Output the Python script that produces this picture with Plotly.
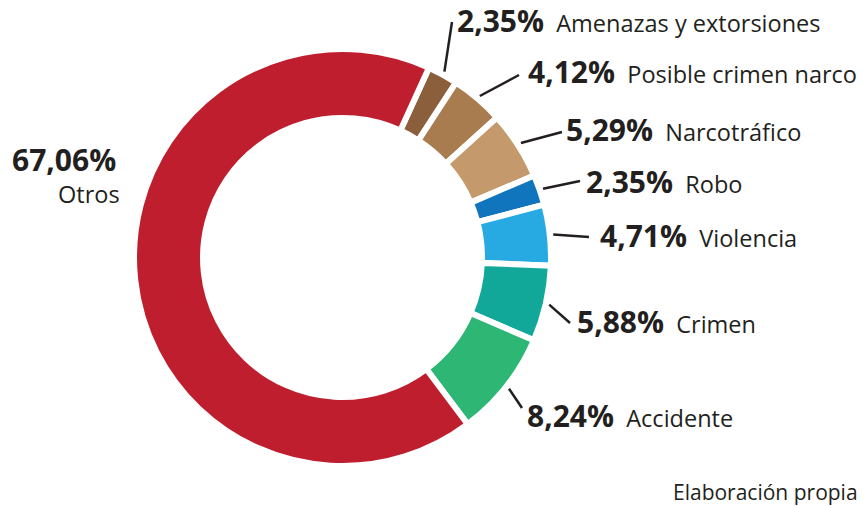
import math
import plotly.graph_objects as go

# ---- data ----
categories = ["Amenazas y extorsiones", "Posible crimen narco", "Narcotráfico", "Robo",
              "Violencia", "Crimen", "Accidente", "Otros"]
values = [2.35, 4.12, 5.29, 2.35, 4.71, 5.88, 8.24, 67.06]
colors = ["#8B5E3C", "#A97C50", "#C49A6C", "#1075BD", "#27AAE1", "#11A89A", "#2DB674", "#BE1E2D"]
source_note = "Elaboración propia"

# ---- layout / style ----
OFF = 8  # page body margin
W, H = 865 - OFF, 506 - OFF
CX, CY, R = 342.5, 257.5, 208.5   # page pixels
HOLE = 139.5 / 208.5
ROT = 24.5
TXT = "#231F20"
FONT = "Open Sans"
PCT_SIZE = 30
LAB_SIZE = 23.5
LEADER_R = 212

# per-label placement in page pixels: (leader end x, leader end y, text left x, text baseline y)
label_place = [
    (452, 22, 455, 33),
    (519, 75, 526, 83),
    (562, 132, 564, 141),
    (580, 181, 584, 193),
    (589, 237, 598, 248),
    (570, 323, 575, 333),
    (522, 408, 525, 427),
    None,
]
otros_place = (118, 171, 122, 203)  # pct right x, pct baseline, label right x, label baseline


def px(x):
    return (x - OFF) / W


def py(y):
    return 1 - (y - OFF) / H


def fmt(v):
    return f"{v:.2f}".replace(".", ",") + "%"


fig = go.Figure(go.Pie(
    labels=categories,
    values=values,
    sort=False,
    direction="clockwise",
    rotation=ROT,
    hole=HOLE,
    marker=dict(colors=colors, line=dict(color="white", width=6)),
    textinfo="none",
    hoverinfo="label+percent",
    showlegend=False,
    domain=dict(x=[px(CX - R), px(CX + R)], y=[py(CY + R), py(CY - R)]),
))

total = sum(values)
cum = 0.0
shapes = []
annotations = []
for cat, v, place in zip(categories, values, label_place):
    mid = math.radians(ROT + (cum + v / 2) / total * 360)
    cum += v
    if place is None:
        continue
    ex, ey, tx, tb = place
    sx = CX + LEADER_R * math.sin(mid)
    sy = CY - LEADER_R * math.cos(mid)
    shapes.append(dict(type="line", xref="paper", yref="paper",
                       x0=px(sx), y0=py(sy), x1=px(ex), y1=py(ey),
                       line=dict(color=TXT, width=2.5)))
    annotations.append(dict(
        xref="paper", yref="paper", x=px(tx), y=py(tb - 12),
        xanchor="left", yanchor="middle", showarrow=False,
        text=f"<span style='font-size:{PCT_SIZE}px'><b>{fmt(v)}</b></span>&nbsp;&nbsp;{cat}",
        font=dict(family=FONT, size=LAB_SIZE, color=TXT),
    ))

# Otros label (stacked)
ox, ob, olx, olb = otros_place
annotations.append(dict(xref="paper", yref="paper", x=px(ox), y=py(ob - 12),
                        xanchor="right", yanchor="middle", showarrow=False,
                        text=f"<b>{fmt(values[-1])}</b>",
                        font=dict(family=FONT, size=PCT_SIZE, color=TXT)))
annotations.append(dict(xref="paper", yref="paper", x=px(olx), y=py(olb - 9),
                        xanchor="right", yanchor="middle", showarrow=False,
                        text=categories[-1],
                        font=dict(family=FONT, size=LAB_SIZE, color=TXT)))
annotations.append(dict(xref="paper", yref="paper", x=px(860), y=py(500 - 8),
                        xanchor="right", yanchor="middle", showarrow=False,
                        text=source_note,
                        font=dict(family=FONT, size=21, color=TXT)))

fig.update_layout(
    width=W, height=H,
    margin=dict(l=0, r=0, t=0, b=0),
    paper_bgcolor="white", plot_bgcolor="white",
    shapes=shapes, annotations=annotations,
)

fig.write_html("out.html")
